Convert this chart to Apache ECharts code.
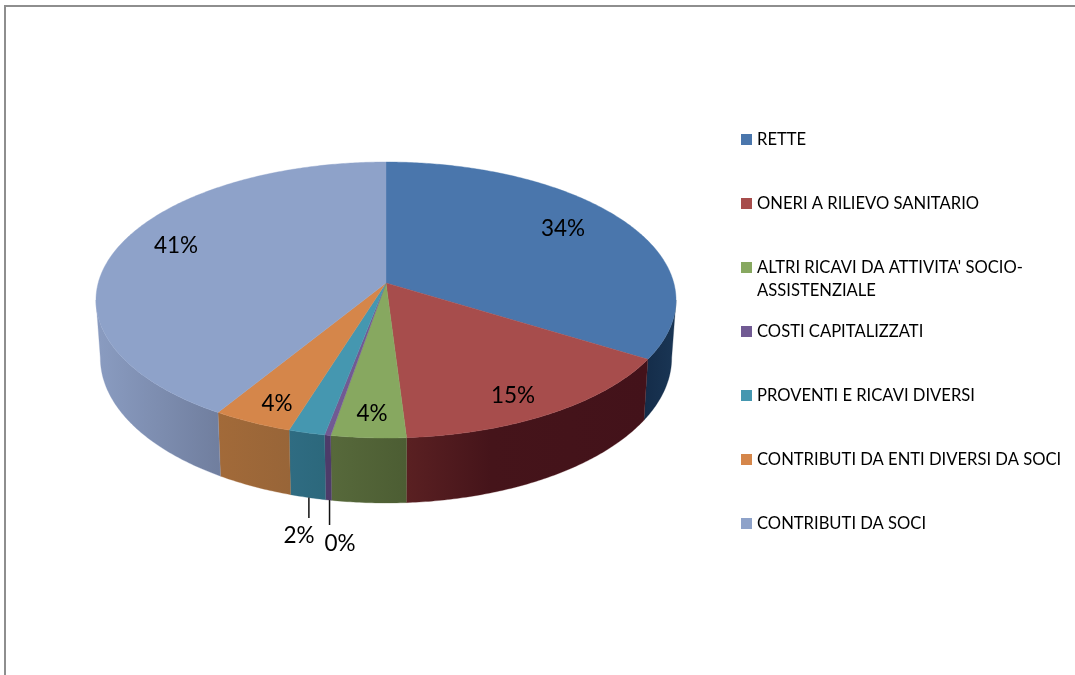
<!DOCTYPE html>
<html><head><meta charset="utf-8">
<style>html,body{margin:0;padding:0;background:#fff}#c{width:1075px;height:675px}</style>
<script src="https://cdn.jsdelivr.net/npm/echarts@6/dist/echarts.min.js"></script>
</head><body><div id="c"></div>
<script>
const categories = ["RETTE","ONERI A RILIEVO SANITARIO","ALTRI RICAVI DA ATTIVITA' SOCIO-\nASSISTENZIALE","COSTI CAPITALIZZATI","PROVENTI E RICAVI DIVERSI","CONTRIBUTI DA ENTI DIVERSI DA SOCI","CONTRIBUTI DA SOCI"];
const values = [33.8, 15.2, 3.7, 0.3, 1.8, 3.95, 41.25];
const topColors = ['#4a76ac','#a74d4c','#87a860','#715a93','#4597b0','#d5864a','#8ea2c9'];
const wallColors = [['#142c49','#1a3655'],['#5a2022','#43121a'],['#57693b','#4c5d33'],['#4d3b69','#4d3b69'],['#2f6c82','#2c687c'],['#a26a39','#986538'],['#8a9cc1','#707e9e']];
const labelCentres = [[563,229],[513,396],[372,414],[340,544],[299,536],[277,404],[176,246]];
const leaderEnds = [null,null,null,525,518,null,null];

const apex = [386,283], a = 287.8, b = 135.9, k = 0.1232, depth = 57, narrow = 0.985;
const total = values.reduce((s,v)=>s+v,0);
const cum = values.reduce((acc,v)=>{acc.push(acc[acc.length-1]+v);return acc;},[0]);
const toAngle = c => c/total*2*Math.PI;
const edge = Math.acos(-k);            // angle of the left/right silhouette
function rim(t){ const x=Math.sin(t), y=-Math.cos(t), w=1-k*y;
  return [apex[0]+a*x/w, apex[1]+b*y/w, w]; }
function lowRim(t){ const p=rim(t);
  return [apex[0]+(p[0]-apex[0])*narrow, p[1]+depth/p[2]]; }
function arc(fn,t0,t1){ const n=Math.max(2,Math.ceil((t1-t0)/0.01)), out=[];
  for(let i=0;i<=n;i++) out.push(fn(t0+(t1-t0)*i/n)); return out; }
const font = '22.5px Lato, sans-serif';

function renderSlice(i){
  const t0=toAngle(cum[i]), t1=toAngle(cum[i+1]), mid=(t0+t1)/2;
  const kids=[];
  const w0=Math.max(t0,edge), w1=Math.min(t1,2*Math.PI-edge);
  if(w1>w0){
    const pts=arc(t=>rim(t).slice(0,2),w0,w1).concat(arc(lowRim,w0,w1).reverse());
    const stops = i===1
      ? [{offset:0,color:wallColors[i][0]},{offset:0.35,color:'#45141a'},{offset:1,color:wallColors[i][1]}]
      : [{offset:0,color:wallColors[i][0]},{offset:1,color:wallColors[i][1]}];
    kids.push({type:'polygon',z2:1,shape:{points:pts},style:{
      fill:new echarts.graphic.LinearGradient(0,0,1,0,stops),
      stroke:wallColors[i][0],lineWidth:0.3}});
  }
  kids.push({type:'polygon',z2:10,shape:{points:[apex].concat(arc(t=>rim(t).slice(0,2),t0,t1))},
    style:{fill:topColors[i],stroke:topColors[i],lineWidth:0.4}});
  const c=labelCentres[i];
  if(leaderEnds[i]!==null){
    const s=lowRim(mid);
    kids.push({type:'line',z2:20,shape:{x1:s[0]+1,y1:s[1],x2:s[0]+1,y2:leaderEnds[i]},style:{stroke:'#111',lineWidth:1.5}});
  }
  kids.push({type:'text',z2:30,x:c[0],y:c[1],style:{text:Math.round(values[i]/total*100)+'%',font:font,fill:'#000',textAlign:'center',textVerticalAlign:'middle'}});
  return {type:'group',children:kids};
}

const chart = echarts.init(document.getElementById('c'),null,{renderer:'canvas'});
chart.setOption({
  animation:false,
  backgroundColor:'#fff',
  graphic:[{type:'rect',silent:true,shape:{x:5,y:6,width:1300,height:900},style:{fill:'none',stroke:'#8e8e8e',lineWidth:2}}],
  legend:{
    orient:'vertical',left:741,top:105,padding:0,itemWidth:11,itemHeight:11,itemGap:-5,itemTextGap:3,
    icon:'rect',selectedMode:false,
    textStyle:{fontFamily:'Lato, sans-serif',fontSize:16.6,color:'#000',lineHeight:23},
    formatter:n=>n.indexOf('\n')>=0?'\n'+n:'\n'+n+'\n',
    data:categories
  },
  series:categories.map((n,i)=>({
    type:'custom',name:n,coordinateSystem:'none',silent:true,
    itemStyle:{color:topColors[i]},
    data:[[values[i]]],
    renderItem:()=>renderSlice(i)
  }))
});
</script></body></html>
